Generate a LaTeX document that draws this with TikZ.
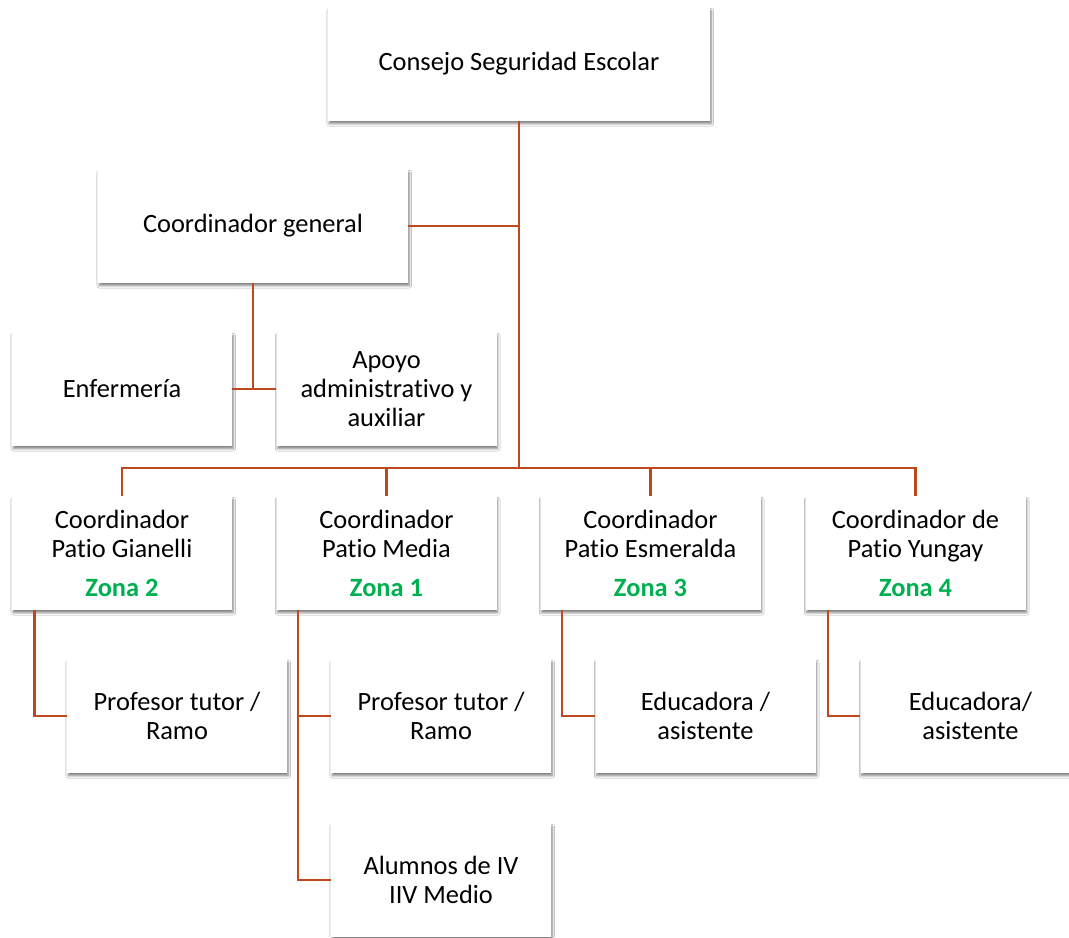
\documentclass[tikz,border=0pt]{standalone}
\usepackage{fontspec}
\setmainfont{Carlito}[Ligatures=NoCommon]
\usetikzlibrary{shadows.blur}
\definecolor{linearoja}{RGB}{192,72,30}
\definecolor{zonaverde}{RGB}{0,176,80}
\tikzset{
	caja/.style={fill=white, minimum width=110pt, minimum height=56.5pt, inner sep=2pt, align=center,
		font=\fontsize{13.2}{14.5}\selectfont,
		blur shadow={shadow xshift=0.6pt, shadow yshift=-1.6pt, shadow blur radius=1.2pt, shadow blur steps=6, shadow opacity=50}},
	linea/.style={draw=linearoja, line width=1.25pt},
}
\newcommand{\zona}[1]{\\[5pt]\textbf{\textcolor{zonaverde}{Zona #1}}}
\begin{document}
\begin{tikzpicture}[x=0.5pt,y=-0.5pt]
	\useasboundingbox[fill=white] (0,0) rectangle (1069,937);
	% cajas
	\node[caja, minimum width=191pt] (consejo) at (519,64) {Consejo Seguridad Escolar};
	\node[caja, minimum width=155pt] (general) at (253,226) {Coordinador general};
	\node[caja] (enfermeria) at (122,389) {Enfermería};
	\node[caja] (apoyo) at (386.5,389) {Apoyo\\administrativo y\\auxiliar};
	\node[caja] (gianelli) at (122,553) {Coordinador\\Patio Gianelli\zona{2}};
	\node[caja] (media) at (386.5,553) {Coordinador\\Patio Media\zona{1}};
	\node[caja] (esmeralda) at (650.5,553) {Coordinador\\Patio Esmeralda\zona{3}};
	\node[caja] (yungay) at (915.5,553) {Coordinador de\\Patio Yungay\zona{4}};
	\node[caja] (profgianelli) at (177,716) {Profesor tutor /\\Ramo};
	\node[caja] (profmedia) at (441,716) {Profesor tutor /\\Ramo};
	\node[caja] (edesmeralda) at (705.5,716) {Educadora /\\asistente};
	\node[caja] (edyungay) at (970.5,716) {Educadora/\\asistente};
	\node[caja] (alumnos) at (441,880) {Alumnos de IV\\IIV Medio};
	% conectores
	\coordinate (bus) at (consejo.south |- 0,468);
	\draw[linea] (consejo.south) -- (bus);
	\draw[linea] (general.east) -- (general.east -| bus);
	\draw[linea] (general.south) -- (general.south |- enfermeria.east);
	\draw[linea] (enfermeria.east) -- (apoyo.west);
	\draw[linea] (gianelli.north) |- (bus) -| (yungay.north);
	\draw[linea] (media.north) -- (media.north |- bus);
	\draw[linea] (esmeralda.north) -- (esmeralda.north |- bus);
	\draw[linea] ([xshift=11.5pt]gianelli.south west) |- (profgianelli.west);
	\draw[linea] ([xshift=11pt]media.south west) |- (profmedia.west);
	\draw[linea] ([xshift=11pt]media.south west) |- (alumnos.west);
	\draw[linea] ([xshift=11pt]esmeralda.south west) |- (edesmeralda.west);
	\draw[linea] ([xshift=11.5pt]yungay.south west) |- (edyungay.west);
\end{tikzpicture}
\end{document}
